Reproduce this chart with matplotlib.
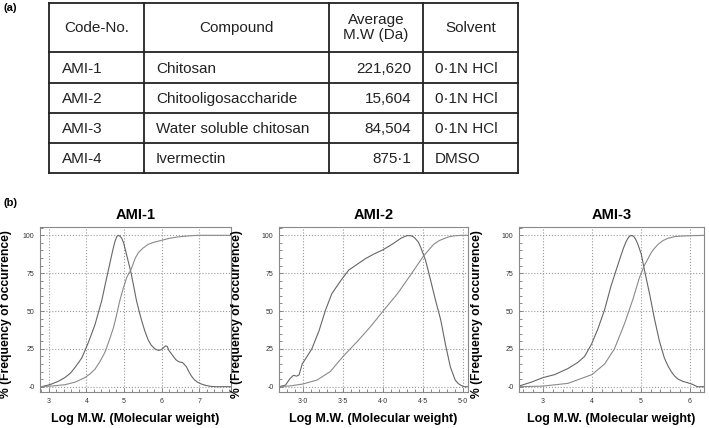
import numpy as np
import matplotlib
matplotlib.use('Agg')
import matplotlib.pyplot as plt
from matplotlib.ticker import MultipleLocator

plt.rcParams['font.family'] = ['Liberation Sans', 'DejaVu Sans']

# (a) table contents
col_labels = ['Code-No.', 'Compound', 'Average\nM.W (Da)', 'Solvent']
codes = ['AMI-1', 'AMI-2', 'AMI-3', 'AMI-4']
compounds = ['Chitosan', 'Chitooligosaccharide', 'Water soluble chitosan', 'Ivermectin']
mw_labels = ['221,620', '15,604', '84,504', '875\u00b71']
solvents = ['0\u00b71N HCl', '0\u00b71N HCl', '0\u00b71N HCl', 'DMSO']

# (b) molecular weight distributions
ami1_x = [2.80, 2.95, 3.08, 3.25, 3.43, 3.58, 3.70, 3.88, 4.05, 4.23, 4.41, 4.54,
          4.62, 4.70, 4.76, 4.81, 4.85, 4.89, 4.94, 4.99, 5.04, 5.11, 5.18, 5.26,
          5.33, 5.40, 5.47, 5.55, 5.64, 5.72, 5.82, 5.91, 5.97, 6.02, 6.07, 6.11,
          6.15, 6.19, 6.25, 6.31, 6.37, 6.42, 6.48, 6.55, 6.61, 6.66, 6.72, 6.79,
          6.87, 6.95, 7.05, 7.15, 7.28, 7.41, 7.84]
ami1_freq = [0, 0.8, 1.8, 3.5, 6, 9, 12.7, 19, 29, 41, 57, 72,
             81, 90, 96, 99.3, 100, 99.5, 98, 95, 90, 83, 76, 66,
             57, 50, 43.5, 37, 31, 27.5, 25, 24, 24.3, 25, 26.3, 27,
             26.5, 24, 22, 20, 18, 17, 16.3, 16, 14.5, 13, 10, 7,
             4.5, 3, 1.8, 1, 0.3, 0, 0]
ami1_cx = [2.80, 3.10, 3.43, 3.70, 3.96, 4.10, 4.23, 4.36, 4.49, 4.60, 4.72, 4.80,
           4.89, 4.98, 5.07, 5.13, 5.18, 5.24, 5.30, 5.38, 5.50, 5.64, 5.80, 6.00,
           6.20, 6.44, 6.70, 6.97, 7.84]
ami1_cum = [0, 0.5, 1.3, 3, 6, 8.5, 11.6, 16.5, 22.6, 30, 39, 47,
            57, 65, 72, 75, 77, 81, 85, 88.5, 91.5, 94, 95.5, 96.7,
            98, 99, 99.6, 100, 100]

ami2_x = [2.70, 2.78, 2.84, 2.88, 2.92, 2.95, 2.99, 3.05, 3.11, 3.20, 3.28, 3.36,
          3.47, 3.57, 3.68, 3.78, 3.88, 4.00, 4.11, 4.18, 4.22, 4.26, 4.30, 4.34,
          4.37, 4.40, 4.44, 4.47, 4.53, 4.59, 4.65, 4.72, 4.78, 4.84, 4.90, 4.94,
          4.97, 5.01, 5.06]
ami2_freq = [0, 1, 5.5, 7.5, 7, 7.7, 15, 20, 25, 37, 50.5, 61.5,
             70, 77, 81, 84.6, 87.5, 90.5, 94, 96.5, 98, 99, 99.8, 99.8,
             99.3, 98, 95.5, 92, 83.5, 71, 58, 44, 27.5, 13, 4.4, 2,
             1, 0, 0]
ami2_cx = [2.70, 2.85, 3.00, 3.175, 3.34, 3.50, 3.68, 3.84, 4.00, 4.18, 4.34, 4.50,
           4.63, 4.70, 4.76, 4.82, 4.88, 4.94, 5.00, 5.06]
ami2_cum = [0, 0.6, 1.8, 4.4, 10, 20, 30, 39.5, 50, 61.5, 73.6, 86,
            94, 96.5, 97.8, 99, 99.6, 99.9, 100, 100]

ami3_x = [2.51, 2.76, 3.00, 3.24, 3.51, 3.71, 3.85, 3.99, 4.12, 4.26, 4.39, 4.50,
          4.60, 4.65, 4.70, 4.75, 4.79, 4.83, 4.86, 4.90, 4.94, 5.01, 5.07, 5.18,
          5.28, 5.38, 5.48, 5.55, 5.62, 5.69, 5.76, 5.86, 5.96, 6.06, 6.12, 6.16,
          6.29]
ami3_freq = [0.4, 3, 6, 8, 12, 16, 20, 28, 38, 51, 66.5, 77.5,
             87.4, 92, 96, 98.8, 99.8, 99.8, 99, 97, 94, 87.4, 77.5, 61,
             44.5, 30, 19, 14, 10, 7, 5, 3.5, 2.6, 1.5, 0.5, 0,
             0]
ami3_cx = [2.51, 3.00, 3.51, 4.00, 4.26, 4.46, 4.67, 4.84, 4.97, 5.07, 5.21, 5.28,
           5.35, 5.45, 5.55, 5.70, 5.89, 6.29]
ami3_cum = [0, 0.4, 2.2, 8, 15, 25, 42, 58, 72, 80, 88.5, 91.5,
            94, 96.5, 98, 99.2, 99.6, 100]

panels = [
    ('AMI-1', ami1_x, ami1_freq, ami1_cx, ami1_cum, (2.77, 7.84), [3, 4, 5, 6, 7],
     ['3', '4', '5', '6', '7'], 0.2),
    ('AMI-2', ami2_x, ami2_freq, ami2_cx, ami2_cum, (2.70, 5.06), [3.0, 3.5, 4.0, 4.5, 5.0],
     ['3\u00b70', '3\u00b75', '4\u00b70', '4\u00b75', '5\u00b70'], 0.1),
    ('AMI-3', ami3_x, ami3_freq, ami3_cx, ami3_cum, (2.51, 6.29), [3, 4, 5, 6],
     ['3', '4', '5', '6'], 0.2),
]
yticks = [0, 25, 50, 75, 100]
ytick_labels = ['-0', '25', '50', '75', '100']

W, H = 709, 428
fig = plt.figure(figsize=(W / 100, H / 100), dpi=100)

# background axes in pixel units for the table and panel letters
bg = fig.add_axes([0, 0, 1, 1])
bg.set_xlim(0, W)
bg.set_ylim(H, 0)
bg.axis('off')

cols = [49, 144, 329, 423, 518]
rows = [3, 52, 83, 113, 143, 173]
for x in cols:
    bg.plot([x, x], [rows[0], rows[-1]], color='#222222', lw=1.3)
for y in rows:
    bg.plot([cols[0], cols[-1]], [y, y], color='#222222', lw=1.3)

fs = 11
hy = (rows[0] + rows[1]) / 2
for i, lab in enumerate(col_labels):
    bg.text((cols[i] + cols[i + 1]) / 2, hy, lab, ha='center', va='center',
            fontsize=fs, linespacing=1.1, color='#222222')
for r in range(4):
    cy = (rows[r + 1] + rows[r + 2]) / 2 + 1
    bg.text(cols[0] + 13, cy, codes[r], ha='left', va='center', fontsize=fs, color='#222222')
    bg.text(cols[1] + 12, cy, compounds[r], ha='left', va='center', fontsize=fs, color='#222222')
    bg.text(cols[3] - 12, cy, mw_labels[r], ha='right', va='center', fontsize=fs, color='#222222')
    bg.text(cols[3] + 12, cy, solvents[r], ha='left', va='center', fontsize=fs, color='#222222')

bg.text(3, 8, '(a)', ha='left', va='center', fontsize=8, fontweight='bold')
bg.text(3, 203, '(b)', ha='left', va='center', fontsize=8, fontweight='bold')

# panel positions in pixels (left, right)
lefts = [(40, 231), (279, 468), (519, 704)]
ylab_off = [-0.145, -0.19, -0.195]
top_px, bot_px = 227, 392

for k, (title, fx, fy, cx, cy_, xl, xt, xtl, minor) in enumerate(panels):
    l, r = lefts[k]
    ax = fig.add_axes([l / W, 1 - bot_px / H, (r - l) / W, (bot_px - top_px) / H])
    ax.plot(fx, fy, color='#666666', lw=0.8)
    ax.plot(cx, cy_, color='#8a8a8a', lw=0.8)
    ax.set_xlim(*xl)
    ax.set_ylim(-3.5, 105.5)
    ax.set_xticks(xt)
    ax.set_xticklabels(xtl)
    ax.set_yticks(yticks)
    ax.set_yticklabels(ytick_labels)
    ax.xaxis.set_minor_locator(MultipleLocator(minor))
    ax.yaxis.set_minor_locator(MultipleLocator(5))
    ax.grid(True, which='major', linestyle=':', color='#999999', lw=0.8)
    ax.tick_params(which='both', direction='in', color='#777777', labelsize=5,
                   labelcolor='#333333', width=0.6)
    ax.tick_params(which='major', length=3, pad=4)
    ax.tick_params(which='minor', length=2)
    for s in ax.spines.values():
        s.set_color('#888888')
        s.set_linewidth(0.8)
    ax.set_title(title, fontsize=10.5, fontweight='bold', pad=6)
    ax.set_xlabel('Log M.W. (Molecular weight)', fontsize=9, fontweight='bold', labelpad=6)
    ax.set_ylabel('% (Frequency of occurrence)', fontsize=8.7, fontweight='bold')
    ax.yaxis.set_label_coords(ylab_off[k], 0.47)

fig.savefig('out.png', dpi=100)
